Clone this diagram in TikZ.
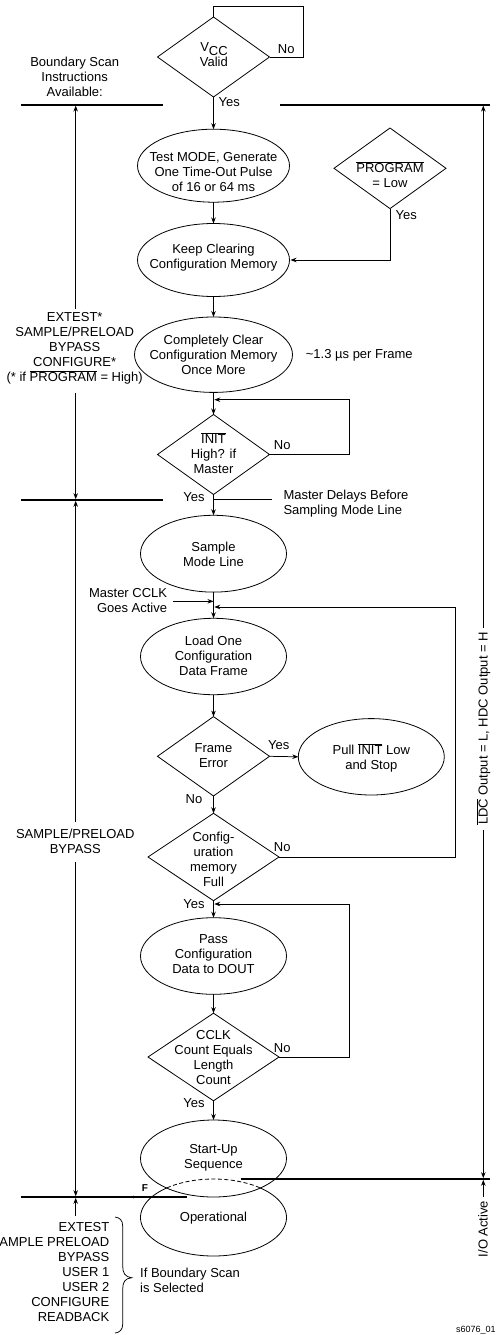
\documentclass[tikz,border=0pt]{standalone}
\usepackage{fontspec}
\setmainfont{Liberation Sans}
\usetikzlibrary{arrows.meta,calc,shapes.geometric}
\tikzset{
  oval/.style={ellipse,draw=black,line width=0.8pt,inner sep=0pt,outer sep=0pt},
  dia/.style={diamond,draw=black,line width=0.8pt,inner sep=0pt,outer sep=0pt},
  flow/.style={line width=0.75pt,draw=black,-{Stealth[length=6pt,width=4.5pt]}},
  plain/.style={line width=0.75pt,draw=black},
  bar/.style={line width=1.7pt,draw=black},
  txt/.style={font=\fontsize{13}{15}\selectfont,align=center,inner sep=0pt,text=black},
  ltxt/.style={txt,align=left,anchor=west},
  rtxt/.style={txt,align=right,anchor=east},
}
\newcommand{\ovl}[1]{$\overline{\mbox{#1}}$}
\begin{document}
\begin{tikzpicture}[x=1pt,y=-1pt]
\useasboundingbox (0,0) rectangle (496,1335);
% shapes
\node[dia,minimum width=112pt,minimum height=80pt] (vcc) at (213.5,57) {};
\node[oval,minimum width=152pt,minimum height=73pt] (e1) at (213.5,165.7) {};
\node[oval,minimum width=152pt,minimum height=73pt] (e2) at (213.5,260) {};
\node[dia,minimum width=112pt,minimum height=80.6pt] (prog) at (390,168.3) {};
\node[oval,minimum width=158pt,minimum height=75.4pt] (e3) at (213.5,354.7) {};
\node[dia,minimum width=112pt,minimum height=80pt] (init) at (213.5,454.5) {};
\node[oval,minimum width=146pt,minimum height=76.8pt] (e4) at (213.5,553.7) {};
\node[oval,minimum width=146pt,minimum height=76.4pt] (e5) at (213.5,656.5) {};
\node[dia,minimum width=112pt,minimum height=79.4pt] (fe) at (213.5,756.3) {};
\node[oval,minimum width=146pt,minimum height=76.4pt] (e6) at (371.3,756.8) {};
\node[dia,minimum width=131pt,minimum height=87.4pt] (cm) at (213.5,857) {};
\node[oval,minimum width=146pt,minimum height=76.6pt] (e7) at (213.5,956) {};
\node[dia,minimum width=131pt,minimum height=87.6pt] (cc) at (213.5,1057) {};
\node[oval,minimum width=146pt,minimum height=77pt] (e8) at (213.5,1158.5) {};
% operational ellipse: solid outside the start-up ellipse, dashed inside
\draw[line width=0.8pt] plot[domain=309.6:590.4,samples=90] ({213.5+73*cos(\x)},{1217.5+38.5*sin(\x)});
\draw[line width=0.8pt,dashed,dash pattern=on 4pt off 2.5pt] plot[domain=230.4:309.6,samples=40] ({213.5+73*cos(\x)},{1217.5+38.5*sin(\x)});
% texts in shapes
\node[txt,anchor=base] (tvcc) at (214,51.6) {V\raisebox{-4pt}{CC}};
\node[txt,anchor=base] (tval) at (213.8,66.9) {Valid};
\node[txt] (te1) at (213.5,171.7) {Test MODE, Generate\\One Time-Out Pulse\\of 16 or 64 ms};
\node[txt] (te2) at (213.5,257.2) {Keep Clearing\\Configuration Memory};
\node[txt] (tprog) at (390,174.5) {\ovl{PROGRAM}\\= Low};
\node[txt] (te3) at (213.5,354.5) {Completely Clear\\Configuration Memory\\Once More};
\node[txt] (tinit) at (213.5,452.8) {\ovl{INIT}\\High? if\\Master};
\node[txt] (te4) at (213.5,554) {Sample\\Mode Line};
\node[txt] (te5) at (213.5,655.5) {Load One\\Configuration\\Data Frame};
\node[txt] (tfe) at (213.5,756) {Frame\\Error};
\node[txt] (te6) at (371.3,757.5) {Pull \ovl{INIT} Low\\and Stop};
\node[txt] (tcm) at (213.5,859) {Config-\\uration\\memory\\Full};
\node[txt] (te7) at (213.5,954) {Pass\\Configuration\\Data to DOUT};
\node[txt] (tcc) at (213.5,1057.3) {CCLK\\Count Equals\\Length\\Count};
\node[txt] (te8) at (213.5,1158) {Start-Up\\Sequence};
\node[txt] (top) at (213.5,1217.7) {Operational};
% branch labels
\node[txt] (ly1) at (229.3,102.3) {Yes};
\node[txt] (ln1) at (286.3,48.7) {No};
\node[txt] (ly2) at (406.3,214.7) {Yes};
\node[txt] (ln2) at (282.3,444.7) {No};
\node[txt] (ly3) at (194,497.3) {Yes};
\node[txt] (ly4) at (278.7,744.7) {Yes};
\node[txt] (ln3) at (194,799.3) {No};
\node[txt] (ln4) at (282.3,846.7) {No};
\node[txt] (ly5) at (194,903.7) {Yes};
\node[txt] (ln5) at (282.3,1047.7) {No};
\node[txt] (ly6) at (194,1103.3) {Yes};
% side texts
\node[txt] (bsi) at (74.7,76.8) {Boundary Scan\\Instructions\\Available:};
\node[txt] (ext) at (74.7,348.5) {EXTEST*\\SAMPLE/PRELOAD\\BYPASS\\CONFIGURE*\\(* if \ovl{PROGRAM} = High)};
\node[ltxt] (tpf) at (305.7,355.7) {\textasciitilde1.3 µs per Frame};
\node[ltxt] (mdb) at (283.3,503.2) {Master Delays Before\\Sampling Mode Line};
\node[rtxt] (mcc) at (167.3,600.8) {Master CCLK\\Goes Active};
\node[txt] (spb) at (75.3,841.8) {SAMPLE/PRELOAD\\BYPASS};
\node[rtxt] (blist) at (109.5,1272.3) {EXTEST\\AMPLE PRELOAD\\BYPASS\\USER 1\\USER 2\\CONFIGURE\\READBACK};
\node[ltxt] (ifb) at (140,1280.2) {If Boundary Scan\\is Selected};
\node[txt,font=\bfseries\fontsize{10}{12}\selectfont] (ff) at (145,1188) {F};
\node[txt,rotate=90,anchor=base] (ldc) at (487.6,728.5) {\ovl{LDC} Output = L, HDC Output = H};
\node[txt,rotate=90,anchor=base] (ioa) at (487.6,1229) {I/O Active};
\node[txt,font=\fontsize{9}{11}\selectfont,anchor=east] (sn) at (495.8,1330.5) {s6076\_01};
% coordinates for free ends
\coordinate (bl1a) at (21,105); \coordinate (bl1b) at (163,105);
\coordinate (br1a) at (280.3,105); \coordinate (br1b) at (490,105);
\coordinate (bl2a) at (21,500); \coordinate (bl2b) at (163,500);
\coordinate (bl3a) at (21,1197); \coordinate (bl3b) at (187,1197);
\coordinate (br3a) at (240.7,1179); \coordinate (br3b) at (490,1179);
\coordinate (vloop) at (303,6.5);
\coordinate (iloop) at (349.3,399.7);
\coordinate (cmloop) at (455.7,607);
\coordinate (ccloop) at (349.3,904);
\coordinate (a1) at (75.7,309); \coordinate (a1t) at (75.7,105.6);
\coordinate (a2) at (75.7,393); \coordinate (a2t) at (75.7,499.2);
\coordinate (a3) at (75.7,822); \coordinate (a3t) at (75.7,500.8);
\coordinate (a4) at (75.7,862); \coordinate (a4t) at (75.7,1196.2);
\coordinate (a5) at (75.7,1215.7); \coordinate (a5t) at (75.7,1197.8);
\coordinate (r1) at (483.3,628); \coordinate (r1t) at (483.3,105.6);
\coordinate (r2) at (483.3,830); \coordinate (r2t) at (483.3,1178.2);
\coordinate (r3) at (483.3,1197); \coordinate (r3t) at (483.3,1179.8);
\coordinate (mdl) at (272,499.7);
\coordinate (mcl) at (173,601.3);
% bars
\draw[bar] (bl1a)--(bl1b);
\draw[bar] (br1a)--(br1b);
\draw[bar] (bl2a)--(bl2b);
\draw[bar] (bl3a)--(bl3b);
\draw[bar] (br3a)--(br3b);
\fill (133.5,1197) circle [radius=1.3pt];
% main flow
\draw[flow] (vcc.south)--(e1.north);
\draw[flow] (e1.south)--(e2.north);
\draw[flow] (e2.south)--(e3.north);
\draw[flow] (e3.south)--(init.north);
\draw[flow] (init.south)--(e4.north);
\draw[flow] (e4.south)--(e5.north);
\draw[flow] (e5.south)--(fe.north);
\draw[flow] (fe.south)--(cm.north);
\draw[flow] (cm.south)--(e7.north);
\draw[flow] (e7.south)--(cc.north);
\draw[flow] (cc.south)--(e8.north);
\draw[flow] (fe.east)--(e6.west);
% loops
\draw[plain] (vcc.east)-|(vloop)-|(vcc.north);
\draw[flow,shorten >=1pt] (prog.south)|-(e2.east);
\draw[flow,shorten >=0.8pt] (init.east)-|(iloop)--(iloop-|init.north);
\draw[flow,shorten >=0.8pt] (cm.east)-|(cmloop)--(cmloop-|e5.north);
\draw[flow,shorten >=0.8pt] (cc.east)-|(ccloop)--(ccloop-|e7.north);
\draw[plain] (mdl-|init.south)--(mdl);
\draw[flow] (mcl)--(mcl-|e4.south);
% side arrows
\draw[flow] (a1)--(a1t);
\draw[flow] (a2)--(a2t);
\draw[flow] (a3)--(a3t);
\draw[flow] (a4)--(a4t);
\draw[flow] (a5)--(a5t);
\draw[flow] (r1)--(r1t);
\draw[flow] (r2)--(r2t);
\draw[flow] (r3)--(r3t);
% brace
\draw[line width=0.75pt] (115,1217) .. controls (119.5,1217.5) and (122.7,1220) .. (122.7,1226)
  -- (122.7,1266) .. controls (122.7,1273) and (125,1277) .. (131.7,1277.7)
  .. controls (125,1278.4) and (122.7,1282) .. (122.7,1289)
  -- (122.7,1324) .. controls (122.7,1330) and (119.5,1332.5) .. (115,1333);
\end{tikzpicture}
\end{document}
